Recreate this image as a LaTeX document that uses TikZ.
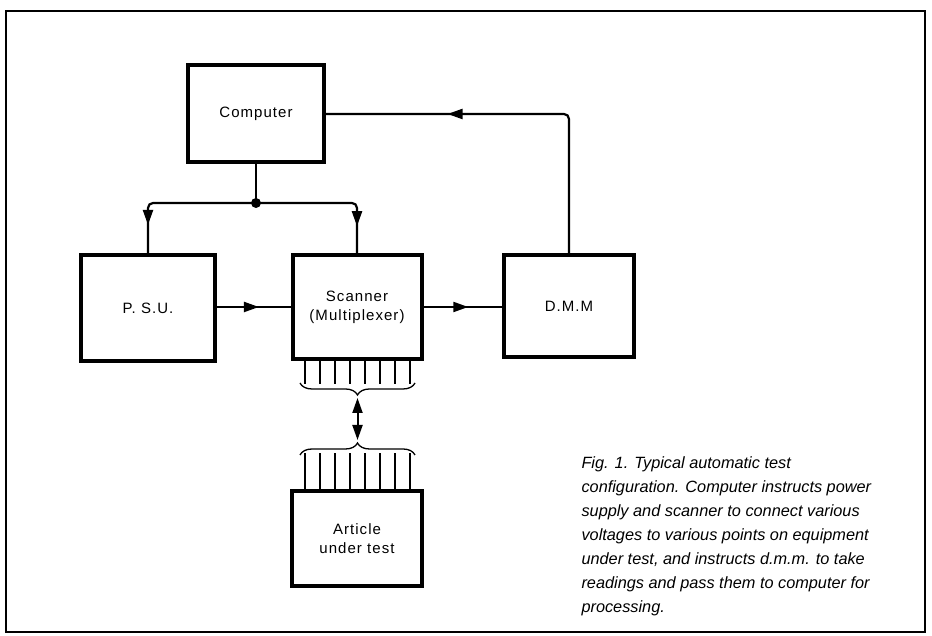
\documentclass[tikz,border=0pt]{standalone}
\usepackage{fontspec}
\setmainfont{Liberation Sans}
\newfontfamily\boxfont[LetterSpace=7]{Liberation Sans}
\usetikzlibrary{arrows.meta, positioning, decorations.markings, decorations.pathreplacing}

\begin{document}
\begin{tikzpicture}[x=1pt, y=1pt,
    block/.style={draw, line width=4pt, fill=white, align=center, font=\boxfont\fontsize{15}{19}\selectfont},
    wire/.style={line width=2.2pt, rounded corners=5pt},
    tip/.style={-{Stealth[length=15pt, width=10pt, inset=0pt]}},
    mid/.style={postaction={decorate}, decoration={markings, mark=at position #1 with {\arrow{Stealth[length=15pt, width=10pt, inset=0pt]}}}},
    pin/.style={line width=2pt},
    brc/.style={line width=1.3pt, decorate, decoration={brace, amplitude=12pt}}]
    \useasboundingbox (0,0) rectangle (932,636);
    \draw[line width=1.3pt] (6,4) rectangle (925,625);

    \node[block, minimum width=136, minimum height=97] (comp) at (256,522) {Computer};
    \node[block, minimum width=134, minimum height=106] (psu) at (148,328) {P. S.U.};
    \node[block, minimum width=129, minimum height=104] (scan) at (357,329) {Scanner\\(Multiplexer)};
    \node[block, minimum width=130, minimum height=102] (dmm) at (569,330) {D.M.M};
    \node[block, minimum width=130, minimum height=95] (art) at (357,97) {Article\\under test};

    \coordinate (j) at (comp.south |- 0,433);
    \draw[wire] (comp.south) -- (j);
    \fill (j) circle (5);
    \draw[wire, mid=0.82] (j) -| (psu.north);
    \draw[wire, mid=0.82] (j) -| (scan.north);
    \draw[wire, mid=0.57] (scan.west -| psu.east) -- (scan.west);
    \draw[wire, mid=0.57] (scan.east) -- (scan.east -| dmm.west);
    \draw[wire, mid=0.68] (dmm.north) |- (comp.east);

    \foreach \i in {0,...,7}
        \draw[pin] ([xshift={(\i-3.5)*15}]scan.south) -- ++(0,-23);
    \foreach \i in {0,...,7}
        \draw[pin] ([xshift={(\i-3.5)*15}]art.north) -- ++(0,36);

    \coordinate (ut) at (357.5,241);
    \coordinate (lt) at (357.5,193);
    \coordinate (um) at (357.5,217);
    \draw[brc] (415,253) -- (300,253);
    \draw[brc] (300,181) -- (415,181);
    \draw[line width=2pt, tip] (um) -- ([yshift=-3]ut);
    \draw[line width=2pt, tip] (um) -- ([yshift=3]lt);

    \node[anchor=north west, align=left, font=\itshape\fontsize{16.3}{24}\selectfont] (cap) at (578,183)
        {Fig. 1. Typical automatic test\\
         configuration. Computer instructs power\\
         supply and scanner to connect various\\
         voltages to various points on equipment\\
         under test, and instructs d.m.m. to take\\
         readings and pass them to computer for\\
         processing.};
\end{tikzpicture}
\end{document}
